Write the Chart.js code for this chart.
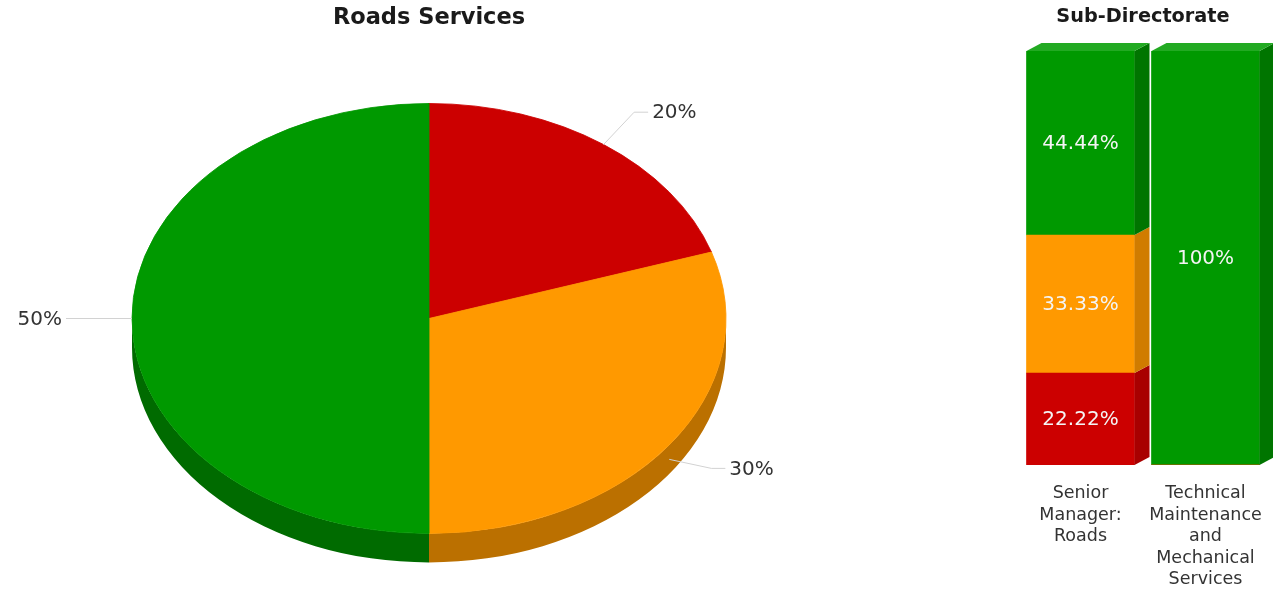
<!DOCTYPE html>
<html>
<head>
<meta charset="utf-8">
<script src="https://cdn.jsdelivr.net/npm/chart.js@4.4.1/dist/chart.umd.min.js"></script>
<style>
  html, body { margin: 0; padding: 0; background: #ffffff; width: 1273px; height: 593px; overflow: hidden; }
  #pieBox { position: absolute; left: 0; top: 0; width: 858px; height: 593px; }
  #barBox { position: absolute; left: 1018px; top: 0; width: 255px; height: 593px; }
</style>
</head>
<body>
<div id="pieBox"><canvas id="pie"></canvas></div>
<div id="barBox"><canvas id="bar"></canvas></div>
<script>
// Roads Services: share of items per RAG status
const pieStatus = ['Red', 'Amber', 'Green'];
const pieValues = [20, 30, 50];

// Sub-Directorate breakdown (percent per status)
const subCategories = [
  ['Senior', 'Manager:', 'Roads'],
  ['Technical', 'Maintenance', 'and', 'Mechanical', 'Services']
];
const redValues = [22.22, 0];
const amberValues = [33.33, 0];
const greenValues = [44.44, 100];

const FONT = "'DejaVu Sans', Verdana, sans-serif";
const COLORS = { red: '#cc0000', amber: '#ff9900', green: '#009900' };

// Tilted pie with a side wall and elbow leader labels
const pie3d = {
  id: 'pie3d',
  beforeDatasetsDraw(chart, args, o) {
    const ctx = chart.ctx;
    const arcs = chart.getDatasetMeta(0).data;
    if (!arcs.length) return;
    const cx = arcs[0].x, cy = arcs[0].y;
    ctx.save();
    ctx.translate(cx, cy);
    ctx.scale(1, o.tilt);
    ctx.translate(-cx, -cy);
    const drop = o.depth / o.tilt;
    arcs.forEach((a, i) => {
      [[0, Math.PI], [2 * Math.PI, 3 * Math.PI]].forEach(([lo, hi]) => {
        const s = Math.max(a.startAngle, lo), e = Math.min(a.endAngle, hi);
        if (e <= s) return;
        ctx.beginPath();
        ctx.arc(a.x, a.y, a.outerRadius, s, e);
        ctx.arc(a.x, a.y + drop, a.outerRadius, e, s, true);
        ctx.closePath();
        ctx.fillStyle = o.sideColors[i];
        ctx.fill();
      });
    });
  },
  afterDatasetsDraw(chart, args, o) {
    const ctx = chart.ctx;
    ctx.restore();
    const arcs = chart.getDatasetMeta(0).data;
    const values = chart.data.datasets[0].data;
    const total = values.reduce((s, v) => s + v, 0);
    ctx.save();
    ctx.font = o.labelFont;
    ctx.textBaseline = 'middle';
    arcs.forEach((a, i) => {
      const m = (a.startAngle + a.endAngle) / 2;
      const c = Math.cos(m), s = Math.sin(m);
      const rx = a.outerRadius, ry = a.outerRadius * o.tilt;
      const sx = a.x + rx * c;
      let sy = a.y + ry * s;
      if (s > 0.05) sy += o.depth * 0.5;
      const ex = a.x + (rx + o.elbow * 1.3) * c, ey = a.y + (ry + o.elbow) * s;
      const right = c >= 0;
      const hx = ex + (right ? o.arm : -o.arm);
      ctx.beginPath();
      ctx.moveTo(sx, sy);
      ctx.lineTo(ex, ey);
      ctx.lineTo(hx, ey);
      ctx.strokeStyle = o.lineColor;
      ctx.lineWidth = 1;
      ctx.stroke();
      ctx.fillStyle = o.labelColor;
      ctx.textAlign = right ? 'left' : 'right';
      ctx.fillText(Math.round(values[i] / total * 100) + '%', hx + (right ? 4 : -4), ey + 1);
    });
    ctx.restore();
  }
};

// Extruded stacked columns with value labels
const bar3d = {
  id: 'bar3d',
  afterDatasetsDraw(chart, args, o) {
    const ctx = chart.ctx;
    const tops = [];
    const labels = [];
    ctx.save();
    chart.data.datasets.forEach((ds, di) => {
      const meta = chart.getDatasetMeta(di);
      meta.data.forEach((bar, j) => {
        const v = ds.data[j];
        if (!v) return;
        const { x, y, base, width } = bar.getProps(['x', 'y', 'base', 'width'], true);
        const l = x - width / 2, r = x + width / 2;
        ctx.fillStyle = o.sideColors[di];
        ctx.beginPath();
        ctx.moveTo(r, y);
        ctx.lineTo(r + o.dx, y - o.dy);
        ctx.lineTo(r + o.dx, base - o.dy);
        ctx.lineTo(r, base);
        ctx.closePath();
        ctx.fill();
        if (!tops[j] || y < tops[j].y) tops[j] = { y, l, r, di };
        labels.push({ x, y: (y + base) / 2, text: (+v.toFixed(2)) + '%' });
      });
    });
    tops.forEach(t => {
      if (!t) return;
      ctx.fillStyle = o.topColors[t.di];
      ctx.beginPath();
      ctx.moveTo(t.l, t.y);
      ctx.lineTo(t.l + o.dx, t.y - o.dy);
      ctx.lineTo(t.r + o.dx, t.y - o.dy);
      ctx.lineTo(t.r, t.y);
      ctx.closePath();
      ctx.fill();
    });
    ctx.font = o.labelFont;
    ctx.fillStyle = o.labelColor;
    ctx.textAlign = 'center';
    ctx.textBaseline = 'middle';
    labels.forEach(lb => ctx.fillText(lb.text, lb.x, lb.y + 1));
    ctx.restore();
  }
};

new Chart(document.getElementById('pie'), {
  type: 'pie',
  data: {
    labels: pieStatus,
    datasets: [{
      data: pieValues,
      backgroundColor: [COLORS.red, COLORS.amber, COLORS.green],
      borderColor: [COLORS.red, COLORS.amber, COLORS.green],
      borderWidth: 1,
      radius: 297,
      clip: false
    }]
  },
  options: {
    responsive: true,
    maintainAspectRatio: false,
    animation: false,
    events: [],
    layout: { padding: { top: 0, bottom: 0, left: 0, right: 0 } },
    plugins: {
      legend: { display: false },
      tooltip: { enabled: false },
      title: {
        display: true,
        text: 'Roads Services',
        color: '#1a1a1a',
        font: { family: FONT, size: 22.5, weight: 'bold', lineHeight: 1.2 },
        padding: { top: 5, bottom: 12 }
      },
      pie3d: {
        tilt: 215 / 297,
        depth: 29,
        sideColors: ['#990000', '#bb7000', '#006b00'],
        elbow: 40,
        arm: 14,
        lineColor: '#d2d2d2',
        labelColor: '#333333',
        labelFont: '20px ' + FONT
      }
    }
  },
  plugins: [pie3d]
});

new Chart(document.getElementById('bar'), {
  type: 'bar',
  data: {
    labels: subCategories,
    datasets: [
      { label: 'Red', data: redValues, backgroundColor: COLORS.red },
      { label: 'Amber', data: amberValues, backgroundColor: COLORS.amber },
      { label: 'Green', data: greenValues, backgroundColor: COLORS.green }
    ]
  },
  options: {
    responsive: true,
    maintainAspectRatio: false,
    animation: false,
    events: [],
    layout: { autoPadding: false, padding: { top: 0, bottom: 0, left: 0, right: 5 } },
    datasets: { bar: { barThickness: 108, borderWidth: 0 } },
    scales: {
      x: {
        stacked: true,
        grid: { display: false, drawTicks: false },
        border: { display: false },
        ticks: {
          color: '#333333',
          autoSkip: false,
          maxRotation: 0,
          padding: 18,
          font: { family: FONT, size: 17.5, lineHeight: 1.23 }
        },
        afterFit(scale) {
          scale.height = 128;
          scale.paddingLeft = 0;
          scale.paddingRight = 0;
        }
      },
      y: { stacked: true, display: false, min: 0, max: 100 }
    },
    plugins: {
      legend: { display: false },
      tooltip: { enabled: false },
      title: {
        display: true,
        text: 'Sub-Directorate',
        color: '#1a1a1a',
        font: { family: FONT, size: 19.3, weight: 'bold', lineHeight: 1.2 },
        padding: { top: 5, bottom: 22.8 }
      },
      bar3d: {
        dx: 15,
        dy: 8,
        sideColors: ['#a80000', '#d07c00', '#007500'],
        topColors: ['#e02020', '#ffad33', '#22aa22'],
        labelColor: '#f4f4f4',
        labelFont: '20px ' + FONT
      }
    }
  },
  plugins: [bar3d]
});
</script>
</body>
</html>
